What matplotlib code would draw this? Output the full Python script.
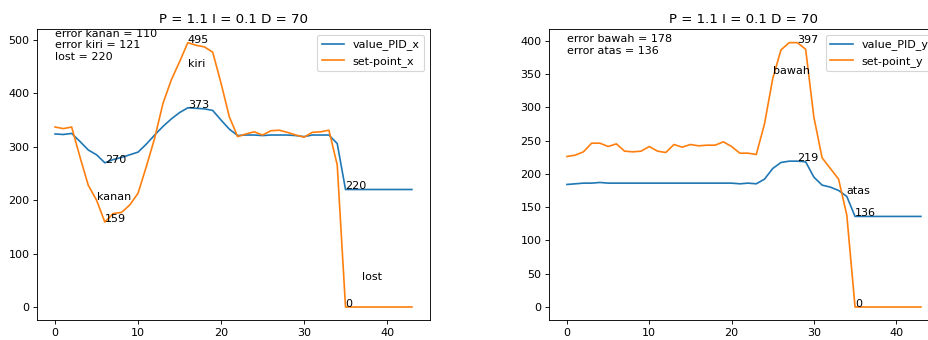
import matplotlib
matplotlib.use("Agg")
import matplotlib.pyplot as plt

# ── Data ──────────────────────────────────────────────────────────────────────
t = list(range(44))

setpoint_x = [337, 334, 337, 281, 228, 200, 159, 175, 177, 191, 213, 263, 316,
              381, 425, 459, 495, 490, 487, 477, 419, 356, 319, 324, 328, 322,
              330, 331, 327, 322, 318, 327, 328, 331, 266, 0, 0, 0, 0, 0, 0, 0,
              0, 0]
value_pid_x = [324, 323, 325, 310, 294, 285, 270, 276, 280, 285, 290, 305, 322,
               338, 352, 364, 373, 372, 371, 368, 350, 333, 321, 322, 322, 321,
               322, 322, 322, 321, 319, 322, 322, 322, 306, 220, 220, 220, 220,
               220, 220, 220, 220, 220]

setpoint_y = [226, 228, 233, 246, 246, 241, 245, 234, 233, 234, 241, 234, 232,
              244, 240, 244, 242, 243, 243, 248, 241, 231, 231, 229, 275, 343,
              386, 397, 397, 387, 285, 224, 208, 192, 138, 0, 0, 0, 0, 0, 0, 0,
              0, 0]
value_pid_y = [184, 185, 186, 186, 187, 186, 186, 186, 186, 186, 186, 186, 186,
               186, 186, 186, 186, 186, 186, 186, 186, 185, 186, 185, 192, 208,
               217, 219, 219, 218, 195, 183, 180, 175, 166, 136, 136, 136, 136,
               136, 136, 136, 136, 136]

title = "P = 1.1 I = 0.1 D = 70"
info_x = "error kanan = 110\nerror kiri = 121\nlost = 220"
info_y = "error bawah = 178\nerror atas = 136"

# (x, y, text) labels placed on the curves
labels_x = [(16, 495, "495"), (16, 450, "kiri"), (16, 373, "373"),
            (6, 270, "270"), (5, 200, "kanan"), (6, 159, "159"),
            (35, 220, "220"), (37, 50, "lost"), (35, 0, "0")]
labels_y = [(28, 397, "397"), (25, 350, "bawah"), (28, 219, "219"),
            (34, 170, "atas"), (35, 136, "136"), (35, 0, "0")]

# ── Plot ──────────────────────────────────────────────────────────────────────
DPI = 80
fig = plt.figure(figsize=(928 / DPI, 340 / DPI), dpi=DPI)
ax1 = fig.add_axes([0.0401, 0.0582, 0.4230, 0.8553])
ax2 = fig.add_axes([0.5919, 0.0582, 0.4195, 0.8553])

ax1.plot(t, value_pid_x, label="value_PID_x")
ax1.plot(t, setpoint_x, label="set-point_x")
ax1.set_title(title)
ax1.text(0, 463, info_x)
for x, y, s in labels_x:
    ax1.text(x, y, s)
ax1.legend(loc="upper right")

ax2.plot(t, value_pid_y, label="value_PID_y")
ax2.plot(t, setpoint_y, label="set-point_y")
ax2.set_title(title)
ax2.text(0, 380, info_y)
for x, y, s in labels_y:
    ax2.text(x, y, s)
ax2.legend(loc="upper right")

fig.savefig("out.png", dpi=DPI)
